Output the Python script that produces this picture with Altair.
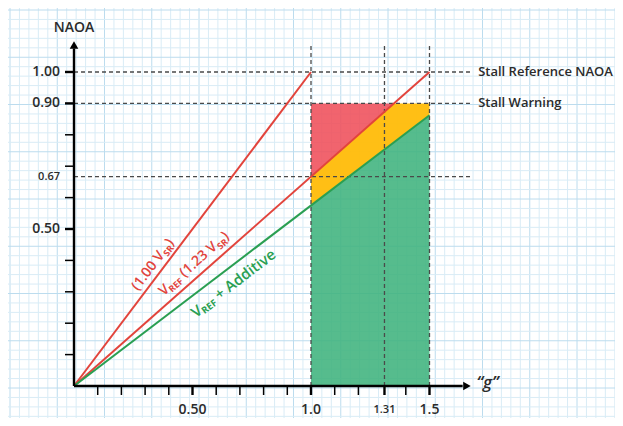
import altair as alt
import pandas as pd
import numpy as np

# ---------------- data ----------------
sr_x = [0.0, 1.0]          # (1.00 V_SR) line
sr_y = [0.0, 1.0]
ref_x = [0.0, 1.5]         # V_REF (1.23 V_SR) line
ref_y = [0.0, 1.0]
add_x = [0.0, 1.5]         # V_REF + Additive line
add_y = [0.0, 0.8625]

zone_x = [1.0, 1.35, 1.5]
green_top = [0.575, 0.776, 0.8625]
yellow_top = [0.667, 0.9, 0.9]
red_x = [1.0, 1.35]
red_bottom = [0.667, 0.9]
red_top = [0.9, 0.9]

h_levels = [1.0, 0.9, 0.667]
h_names = ["Stall Reference NAOA", "Stall Warning", ""]
v_levels = [1.0, 1.31, 1.5]

x_label_vals = [0.5, 1.0, 1.31, 1.5]
x_label_txt = ["0.50", "1.0", "1.31", "1.5"]
x_label_size = [14, 14, 11, 14]
y_label_vals = [1.0, 0.9, 0.667, 0.5]
y_label_txt = ["1.00", "0.90", "0.67", "0.50"]
y_label_size = [14, 14, 11, 14]
x_tick_vals = [0.1, 0.2, 0.3, 0.4, 0.5, 0.6, 0.7, 0.8, 0.9, 1.0, 1.1, 1.2, 1.31, 1.4, 1.5]
x_tick_bold = [0.5, 1.0, 1.31, 1.5]
y_tick_vals = [0.1, 0.2, 0.3, 0.4, 0.5, 0.6, 0.7, 0.8, 0.9, 1.0]
y_tick_bold = [0.5, 0.9, 1.0]

# ---------------- layout ----------------
W, H = 607, 410
XD = [-0.2785, 2.2827]
YD = [-0.1019, 1.2038]
kx = W / (XD[1] - XD[0])
ky = H / (YD[1] - YD[0])
XS = alt.Scale(domain=XD, nice=False, zero=False)
YS = alt.Scale(domain=YD, nice=False, zero=False)
FONT = "Open Sans"
RED = "#e2443c"
GREEN = "#2a9f52"
DARK = "#2b2b2b"


def ex(f="x"):
    return alt.X(f"{f}:Q", scale=XS, axis=None)


def ey(f="y"):
    return alt.Y(f"{f}:Q", scale=YS, axis=None)


layers = []

# graph-paper background
step = 9.45
gx = np.arange(2.0, W, step)
gy = np.arange(2.0, H, step)
grid_v = pd.DataFrame({"x": XD[0] + gx / kx, "major": [i % 5 == 0 for i in range(len(gx))]})
grid_h = pd.DataFrame({"y": YD[1] - gy / ky, "major": [i % 5 == 0 for i in range(len(gy))]})
for df, enc in ((grid_v, "x"), (grid_h, "y")):
    for maj, col in ((False, "#d9ecf6"), (True, "#bcdcee")):
        sub = df[df["major"] == maj]
        e = {"x": ex()} if enc == "x" else {"y": ey()}
        layers.append(alt.Chart(sub).mark_rule(color=col, strokeWidth=1).encode(**e))

# filled zones
green_df = pd.DataFrame({"x": zone_x, "y": [0.0] * 3, "y2": green_top})
yellow_df = pd.DataFrame({"x": zone_x, "y": green_top, "y2": yellow_top})
red_df = pd.DataFrame({"x": red_x, "y": red_bottom, "y2": red_top})
layers.append(alt.Chart(green_df).mark_area(color="#3fb37d", opacity=0.88).encode(x=ex(), y=ey(), y2="y2:Q"))
layers.append(alt.Chart(yellow_df).mark_area(color="#ffbd0d", opacity=0.97).encode(x=ex(), y=ey(), y2="y2:Q"))
layers.append(alt.Chart(red_df).mark_area(color="#ef4e5a", opacity=0.88).encode(x=ex(), y=ey(), y2="y2:Q"))

# dashed guide lines
X_END = 1.68
Y_END = 1.09
hdf = pd.DataFrame({"y": h_levels, "x": [0.0] * 3, "x2": [X_END] * 3})
vdf = pd.DataFrame({"x": v_levels, "y": [0.0] * 3, "y2": [Y_END] * 3})
dash = dict(color="#4a4a4a", strokeDash=[4, 3], strokeWidth=1.3)
layers.append(alt.Chart(hdf).mark_rule(**dash).encode(x=ex(), x2="x2:Q", y=ey()))
layers.append(alt.Chart(vdf).mark_rule(**dash).encode(x=ex(), y=ey(), y2="y2:Q"))

# lines
for xs, ys, col in ((sr_x, sr_y, RED), (ref_x, ref_y, RED), (add_x, add_y, GREEN)):
    layers.append(alt.Chart(pd.DataFrame({"x": xs, "y": ys})).mark_line(color=col, strokeWidth=2).encode(x=ex(), y=ey()))

# axes
layers.append(alt.Chart(pd.DataFrame({"x": [0.0], "x2": [1.64], "y": [0.0]})).mark_rule(color="black", strokeWidth=2.4).encode(x=ex(), x2="x2:Q", y=ey()))
layers.append(alt.Chart(pd.DataFrame({"x": [0.0], "y": [0.0], "y2": [1.075]})).mark_rule(color="black", strokeWidth=2.4).encode(x=ex(), y=ey(), y2="y2:Q"))
layers.append(alt.Chart(pd.DataFrame({"x": [1.658], "y": [0.0]})).mark_point(shape="triangle-right", filled=True, size=75, color="black", opacity=1).encode(x=ex(), y=ey()))
layers.append(alt.Chart(pd.DataFrame({"x": [0.0], "y": [1.086]})).mark_point(shape="triangle-up", filled=True, size=75, color="black", opacity=1).encode(x=ex(), y=ey()))

# ticks
TL = 9
for bold in (False, True):
    xv = [v for v in x_tick_vals if (v in x_tick_bold) == bold]
    yv = [v for v in y_tick_vals if (v in y_tick_bold) == bold]
    sw = 2.4 if bold else 1.5
    layers.append(alt.Chart(pd.DataFrame({"x": xv, "y": [0.0] * len(xv), "y2": [-TL / ky] * len(xv)})).mark_rule(color="black", strokeWidth=sw).encode(x=ex(), y=ey(), y2="y2:Q"))
    layers.append(alt.Chart(pd.DataFrame({"y": yv, "x": [0.0] * len(yv), "x2": [-TL / kx] * len(yv)})).mark_rule(color="black", strokeWidth=sw).encode(x=ex(), x2="x2:Q", y=ey()))

# tick labels
for v, t, s in zip(x_label_vals, x_label_txt, x_label_size):
    layers.append(alt.Chart(pd.DataFrame({"x": [v], "y": [0.0], "t": [t]})).mark_text(
        font=FONT, fontSize=s, fontWeight=600, color=DARK, dy=24, baseline="middle", align="center").encode(x=ex(), y=ey(), text="t:N"))
for v, t, s in zip(y_label_vals, y_label_txt, y_label_size):
    layers.append(alt.Chart(pd.DataFrame({"x": [0.0], "y": [v], "t": [t]})).mark_text(
        font=FONT, fontSize=s, fontWeight=600, color=DARK, dx=-14, baseline="middle", align="right").encode(x=ex(), y=ey(), text="t:N"))

# right-hand labels
rl = pd.DataFrame({"x": [X_END] * 2, "y": h_levels[:2], "t": h_names[:2]})
layers.append(alt.Chart(rl).mark_text(font=FONT, fontSize=13, fontWeight=600, color=DARK, dx=6, align="left", baseline="middle").encode(x=ex(), y=ey(), text="t:N"))

# axis titles
layers.append(alt.Chart(pd.DataFrame({"x": [0.0], "y": [1.14], "t": ["NAOA"]})).mark_text(font=FONT, fontSize=14, fontWeight=600, color=DARK, align="center", baseline="middle").encode(x=ex(), y=ey(), text="t:N"))
layers.append(alt.Chart(pd.DataFrame({"x": [1.745], "y": [0.0], "t": ["\u201cg\u201d"]})).mark_text(font=FONT, fontSize=17, fontStyle="italic", fontWeight=600, color=DARK, align="center", baseline="middle", dy=-3).encode(x=ex(), y=ey(), text="t:N"))

# rotated line labels with subscripts
EM = {" ": 0.26, "(": 0.296, ")": 0.296, ".": 0.266, "V": 0.592, "S": 0.549, "R": 0.614,
      "E": 0.556, "F": 0.517, "+": 0.572, "A": 0.633, "d": 0.623, "i": 0.258, "t": 0.361,
      "v": 0.5, "e": 0.561}


def tw(s, size):
    return sum(EM.get(c, 0.572) for c in s) * size * 1.03


def rotated_label(segs, xa, slope, off, col):
    ya = slope * xa
    ang = np.degrees(np.arctan(slope * ky / kx))
    angle = 360 - ang
    total = sum(tw(t, s) for t, s, _ in segs)
    cur = -total / 2
    out = []
    for t, s, sub in segs:
        lead = len(t) - len(t.lstrip())
        dx = cur + lead * EM[" "] * s * 1.03
        out.append(alt.Chart(pd.DataFrame({"x": [xa], "y": [ya], "t": [t.strip()]})).mark_text(
            font=FONT, fontSize=s, fontWeight=700 if sub else 600, color=col, angle=float(angle),
            align="left", baseline="middle", dx=float(dx), dy=float(off + (4 if sub else 0))
        ).encode(x=ex(), y=ey(), text="t:N"))
        cur += tw(t, s)
    return out


layers += rotated_label([("(1.00 V", 14, 0), ("SR", 9, 1), (")", 14, 0)], 0.367, 1.0, -10, RED)
layers += rotated_label([("V", 14, 0), ("REF", 9, 1), (" (1.23 V", 14, 0), ("SR", 9, 1), (")", 14, 0)], 0.54, 2 / 3, -12, RED)
layers += rotated_label([("V", 15, 0), ("REF", 9.5, 1), (" + Additive", 15, 0)], 0.634, 0.575, 15, GREEN)

chart = alt.layer(*layers).properties(
    width=W, height=H, autosize=alt.AutoSizeParams(type="none"), padding=0,
    background="white"
).configure_view(stroke=None)

chart.save("out.html", embed_options={"renderer": "svg", "actions": False})
